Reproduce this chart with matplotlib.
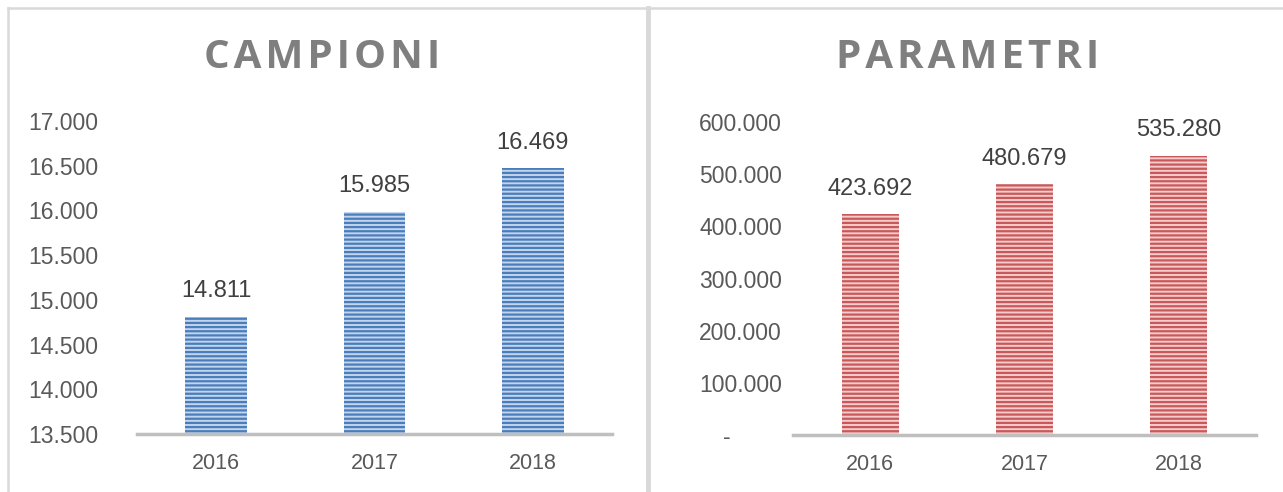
import matplotlib
matplotlib.use("Agg")
import matplotlib.pyplot as plt
from matplotlib.lines import Line2D
from matplotlib.ticker import FuncFormatter

years = ["2016", "2017", "2018"]
campioni = [14811, 15985, 16469]
parametri = [423692, 480679, 535280]
campioni_ticks = [13500, 14000, 14500, 15000, 15500, 16000, 16500, 17000]
parametri_ticks = [0, 100000, 200000, 300000, 400000, 500000, 600000]

plt.rcParams['font.family'] = ['Liberation Sans', 'DejaVu Sans']
plt.rcParams['hatch.linewidth'] = 1.6

GREY_TXT = '#595959'
VAL_TXT = '#404040'
TITLE = '#7f7f7f'
AXLINE = '#bfbfbf'
BORDER = '#d9d9d9'


def fmt(v, pos=None):
    # stile italiano: punto come separatore delle migliaia
    if v == 0:
        return '-        '
    return f"{int(round(v)):,}".replace(",", ".")


fig = plt.figure(figsize=(12.83, 4.92), dpi=100)

# cornici dei due pannelli
fig.add_artist(Line2D([8/1283, 1], [1 - 8/492, 1 - 8/492], color=BORDER, lw=1.8))
fig.add_artist(Line2D([8/1283, 8/1283], [0, 1 - 8/492], color=BORDER, lw=1.8))
fig.add_artist(Line2D([648/1283, 648/1283], [0, 1 - 8/492], color=BORDER, lw=3.5))


def pannello(rect, vals, ticks, face, stripe, title, title_x, pad, width):
    ax = fig.add_axes(rect)
    x = range(len(years))
    ax.bar(x, vals, width=width, bottom=0, facecolor=face, edgecolor=stripe,
           hatch='----', linewidth=0)
    ax.set_xlim(-0.5, len(years) - 0.5)
    ax.set_ylim(ticks[0], ticks[-1])
    ax.set_yticks(ticks)
    ax.yaxis.set_major_formatter(FuncFormatter(fmt))
    ax.set_xticks(list(x))
    ax.set_xticklabels(years)
    for s in ['top', 'right', 'left']:
        ax.spines[s].set_visible(False)
    ax.spines['bottom'].set_color(AXLINE)
    ax.spines['bottom'].set_linewidth(2.5)
    ax.tick_params(axis='y', length=0, labelsize=16.5, colors=GREY_TXT, pad=pad)
    ax.tick_params(axis='x', length=0, labelsize=15.5, colors=GREY_TXT, pad=14)
    for i, v in enumerate(vals):
        ax.annotate(fmt(v), (i, v), xytext=(0, 14), textcoords='offset points',
                    ha='center', va='baseline', fontsize=17, color=VAL_TXT)
    fig.text(title_x, 1 - 58/492, '\u200a'.join(title), ha='center', va='center',
             fontsize=29, fontweight='bold', color=TITLE, family='Open Sans')
    return ax


pannello([137/1283, 1 - 434/492, 475/1283, 313/492], campioni, campioni_ticks,
         '#c3d5ec', '#4a7dbb', 'CAMPIONI', 322/1283, 28, 0.39)
pannello([793/1283, 1 - 435/492, 463/1283, 313/492], parametri, parametri_ticks,
         '#f4cccc', '#c9585a', 'PARAMETRI', 968/1283, 8, 0.37)

fig.savefig('out.png', dpi=100, facecolor='white')
